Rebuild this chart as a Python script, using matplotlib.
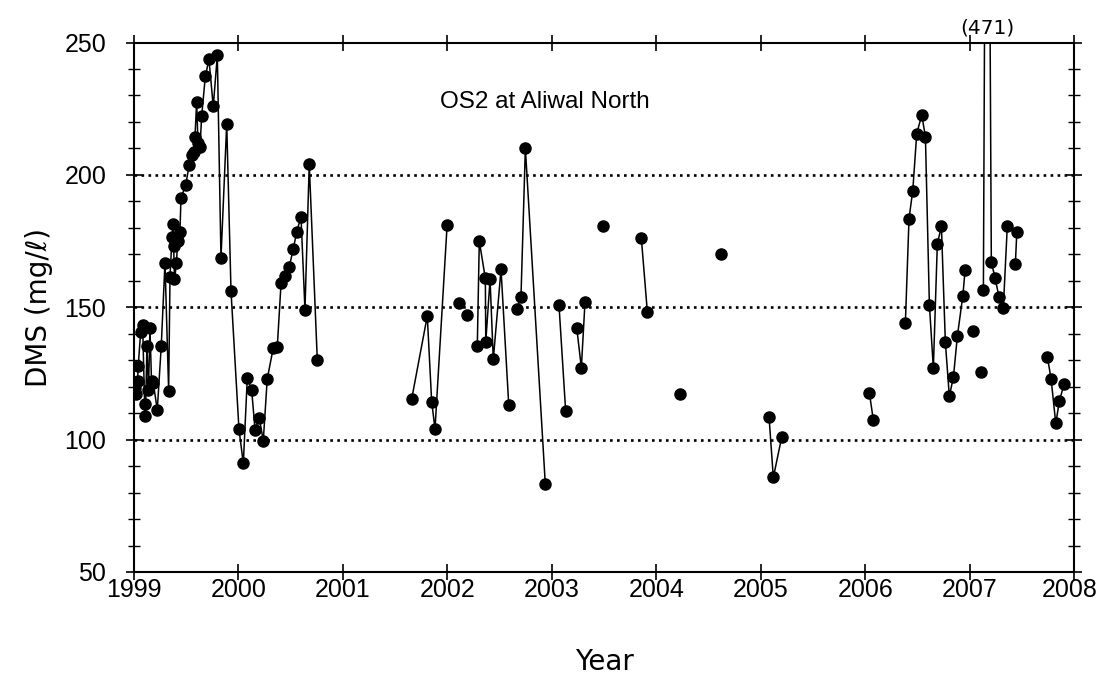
import numpy as np
import matplotlib
matplotlib.use("Agg")
import matplotlib.pyplot as plt
from matplotlib.transforms import ScaledTranslation

nan = np.nan
# Sample dates (decimal year) and DMS (mg/l); NaN separates unconnected runs
dates = [
    1999.010, 1999.024, 1999.034, 1999.041, 1999.064, 1999.083, 1999.102, 1999.110,
    1999.124, 1999.139, 1999.153, 1999.168, 1999.185, 1999.223, 1999.261, 1999.297,
    1999.332, 1999.345, 1999.364, 1999.373, 1999.380, 1999.388, 1999.407, 1999.418,
    1999.440, 1999.450, 1999.495, 1999.529, 1999.555, 1999.574, 1999.584, 1999.600,
    1999.613, 1999.632, 1999.648, 1999.683, 1999.718, 1999.759, 1999.798, 1999.833,
    1999.888, 1999.929, 2000.005, 2000.047, 2000.085, 2000.127, 2000.159, 2000.200,
    2000.238, 2000.276, 2000.334, 2000.372, 2000.408, 2000.446, 2000.487, 2000.525,
    2000.558, 2000.599, 2000.637, 2000.678, 2000.755, nan,
    2001.659, 2001.808, 2001.850, 2001.882, 2001.998, nan,
    2002.115, nan,
    2002.191, nan,
    2002.287, 2002.306, 2002.364, 2002.368, 2002.409, 2002.440, 2002.514, 2002.588, nan,
    2002.664, 2002.705, 2002.747, 2002.938, nan,
    2003.069, 2003.133, nan,
    2003.239, 2003.283, 2003.318, nan,
    2003.493, nan,
    2003.857, 2003.915, nan,
    2004.228, nan,
    2004.621, nan,
    2005.080, 2005.121, 2005.202, nan,
    2006.040, 2006.078, nan,
    2006.385, 2006.420, 2006.456, 2006.494, 2006.542, 2006.577, 2006.615, 2006.653,
    2006.691, 2006.730, 2006.768, 2006.806, 2006.845, 2006.883, 2006.935, 2006.957, nan,
    2007.030, nan,
    2007.107, nan,
    2007.132, 2007.167, 2007.208, 2007.244, 2007.282, 2007.323, 2007.361, nan,
    2007.438, 2007.452, nan,
    2007.745, 2007.780, 2007.825, 2007.860, 2007.905,
]
dms = [
    119.6, 117.3, 122.3, 128.0, 140.6, 143.2, 113.3, 109.1,
    135.2, 118.6, 142.2, 122.0, 121.5, 111.2, 135.2, 166.9,
    118.5, 161.5, 176.4, 181.3, 173.1, 160.5, 166.6, 175.1,
    178.3, 191.2, 196.2, 203.8, 207.6, 208.5, 214.3, 227.5,
    212.0, 210.4, 222.1, 237.2, 243.6, 225.9, 245.1, 168.7,
    219.3, 156.1, 104.0, 91.0, 123.4, 118.6, 103.8, 108.1,
    99.6, 123.0, 134.7, 135.0, 159.0, 161.7, 165.3, 172.0,
    178.5, 184.2, 149.1, 204.2, 130.2, nan,
    115.4, 146.7, 114.4, 104.0, 181.1, nan,
    151.6, nan,
    147.2, nan,
    135.5, 175.0, 160.9, 136.9, 160.5, 130.3, 164.3, 113.1, nan,
    149.2, 153.9, 210.1, 83.2, nan,
    150.8, 110.7, nan,
    142.2, 127.2, 151.9, nan,
    180.7, nan,
    176.3, 148.2, nan,
    117.3, nan,
    170.1, nan,
    108.5, 85.7, 101.1, nan,
    117.8, 107.5, nan,
    143.9, 183.5, 194.1, 215.6, 222.6, 214.5, 151.0, 127.0,
    173.9, 180.6, 136.7, 116.4, 123.6, 139.1, 154.3, 164.0, nan,
    141.0, nan,
    125.5, nan,
    156.4, 471.0, 167.2, 160.9, 153.9, 149.9, 180.7, nan,
    166.3, 178.3, nan,
    131.1, 123.0, 106.1, 114.7, 121.0,
]
x_ticks = list(range(1999, 2009))
y_ticks = [50, 100, 150, 200, 250]
grid_levels = [100, 150, 200]
title = "OS2 at Aliwal North"
outlier_label = "(471)"
outlier_date = 2007.167

plt.rcParams['font.family'] = ['Liberation Sans', 'DejaVu Sans']

fig = plt.figure(figsize=(10.99, 6.75), dpi=100)
ax = fig.add_axes([0.1219, 0.1526, 0.8554, 0.7844])

for lv in grid_levels:
    ax.axhline(lv, color='black', linestyle=':', linewidth=1.9, zorder=1)

ax.plot(dates, dms, color='black', linewidth=1.1, marker='o', markersize=8,
        markerfacecolor='black', markeredgecolor='black', zorder=3, clip_on=True)

ax.set_xlim(1999, 2008)
ax.set_ylim(50, 250)
ax.set_xticks(x_ticks)
ax.set_yticks(y_ticks)
ax.set_yticks(np.arange(50, 251, 10), minor=True)
ax.tick_params(axis='both', which='major', direction='inout', length=12, width=1.2,
               labelsize=18, top=True, right=True)
ax.tick_params(axis='y', which='minor', direction='inout', length=9, width=1.0,
               left=True, right=True)
ax.tick_params(axis='x', which='major', pad=-1.5)
ax.tick_params(axis='y', which='major', pad=14)
for sp in ax.spines.values():
    sp.set_linewidth(1.5)

# keep the last year label inside the canvas
last = ax.get_xticklabels()[-1]
last.set_transform(last.get_transform() + ScaledTranslation(-4 / 100, 0, fig.dpi_scale_trans))

ax.set_xlabel("Year", fontsize=20, labelpad=33, family=['DejaVu Sans'])
ax.set_ylabel("DMS (mg/\u2113)", fontsize=20, labelpad=8, family=['DejaVu Sans'])

ax.text(2002.93, 227.5, title, fontsize=17.5, ha='center', va='center')
ax.text(outlier_date, 251.8, outlier_label, fontsize=14.5, ha='center', va='bottom',
        family=['DejaVu Sans'])

fig.savefig("out.png", dpi=100)
